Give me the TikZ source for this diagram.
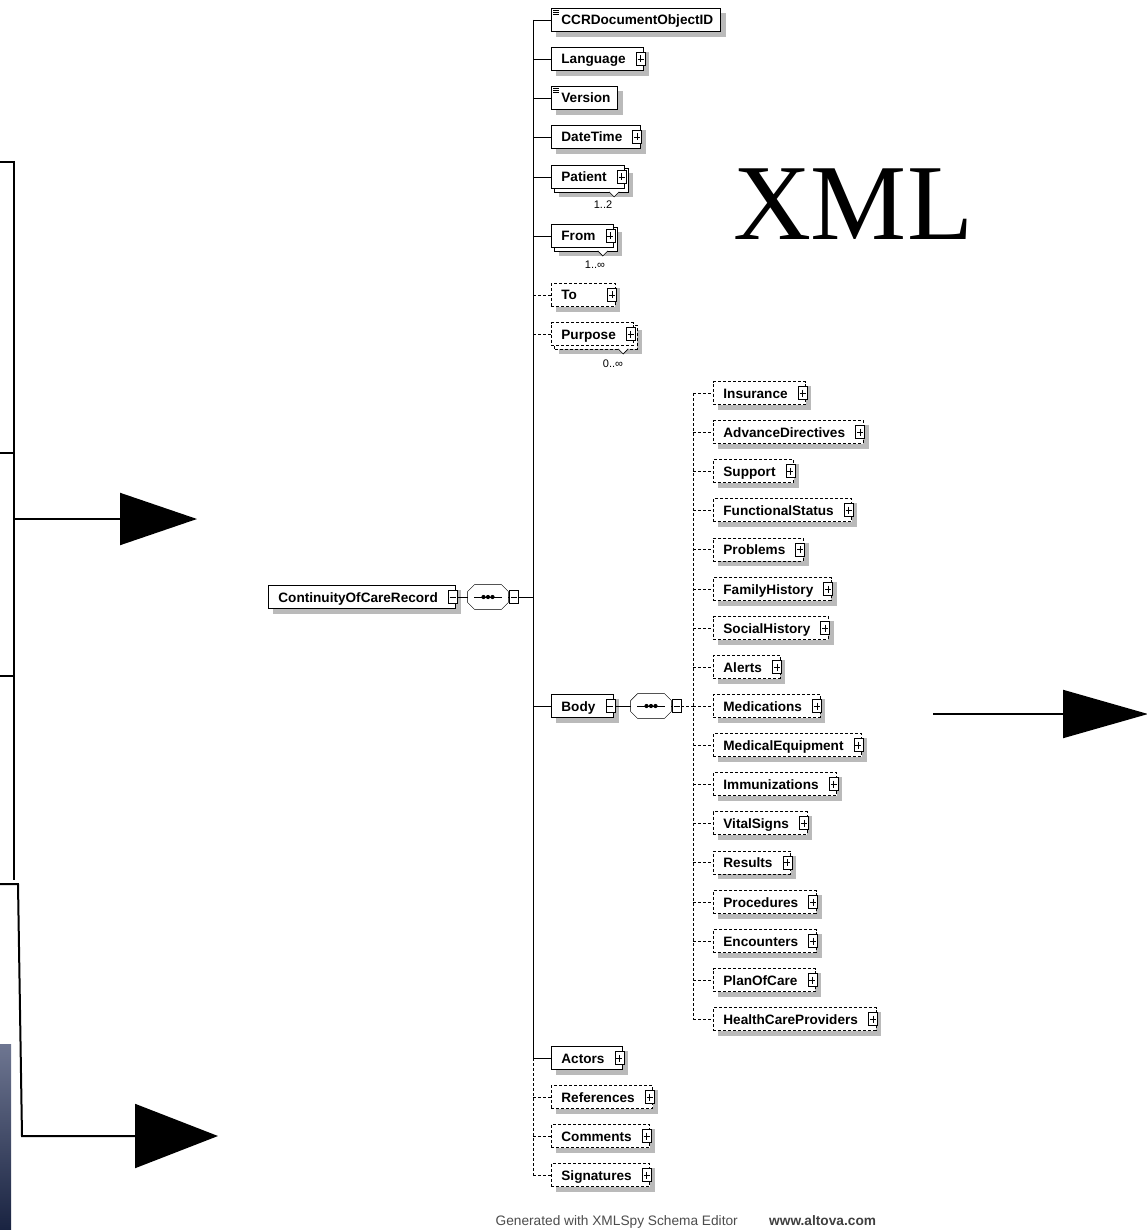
\documentclass[tikz,border=0pt]{standalone}
\usepackage{fontspec}
\setmainfont{Liberation Serif}
\newfontfamily\xsdfont{Liberation Sans}
\usetikzlibrary{arrows.meta}
\pgfdeclarelayer{shadowlayer}
\pgfsetlayers{shadowlayer,main}

\begin{document}
\begin{tikzpicture}[x=1pt, y=-1pt, line width=0.8pt,
	xsd/.style = {draw, fill=white, font={\xsdfont\bfseries\fontsize{13.6pt}{15pt}\selectfont}, minimum height=23pt, text height=10pt, text depth=0pt, inner xsep=0pt, inner ysep=0pt, anchor=west, execute at begin node=\hspace*{10pt}},
	elem/.style = {xsd, execute at end node=\hspace*{18pt}},
	leaf/.style = {xsd, execute at end node=\hspace*{7pt}},
	opt/.style = {dash pattern=on 3pt off 2pt},
	seqbox/.style = {minimum width=40pt, minimum height=24pt, inner sep=0pt},
	shadowfill/.style = {fill=black!27},
	iconbox/.style = {draw, fill=white, solid, line width=0.6pt},
	mult/.style = {font={\xsdfont\fontsize{11pt}{12pt}\selectfont}, inner sep=0pt},
	bigline/.style = {line width=2pt},
]
	\useasboundingbox (0,0) rectangle (1147,1230);

	% left side
	\draw[bigline] (0,162) -- (14,162);
	\draw[bigline] (0,453) -- (14,453);
	\draw[bigline] (0,676) -- (14,676);
	\draw[bigline] (14,161) -- (14,880);
	\coordinate (midtap) at (14,519);
	\coordinate (midtip) at (197,519);
	\draw[bigline, -{Triangle[length=77pt,width=52pt]}] (midtap) -- (midtip);
	\coordinate (lowtap) at (0,884);
	\coordinate (lowbend) at (18,884);
	\coordinate (lowfoot) at (22,1136);
	\coordinate (lowtip) at (218,1136);
	\draw[bigline, -{Triangle[length=83pt,width=64pt]}] (lowtap) -- (lowbend) -- (lowfoot) -- (lowtip);
	\shade[top color={rgb,255:red,110;green,118;blue,145}, bottom color={rgb,255:red,25;green,35;blue,65}] (0,1044) rectangle (11,1230);

	% right side
	\coordinate (rightstart) at (933,714);
	\coordinate (righttip) at (1148,714);
	\draw[bigline, -{Triangle[length=85pt,width=48pt]}] (rightstart) -- (righttip);
	\node[anchor=base, inner sep=0pt, font=\fontsize{108pt}{110pt}\selectfont] (xmltitle) at (853,240) {XML};

	% root
	\node[elem] (ccr) at (268,597) {ContinuityOfCareRecord};
	\node[seqbox] (ccrseq) at (488,597) {};
	\coordinate (mainbus) at (533,597);

	% children of the record
	\node[leaf] (ccrid) at (551,20) {CCRDocumentObjectID};
	\node[elem] (lang) at (551,59) {Language};
	\node[leaf] (version) at (551,98) {Version};
	\node[elem] (datetime) at (551,137) {DateTime};
	\node[elem] (patient) at (551,177) {Patient};
	\node[elem] (from) at (551,236) {From};
	\node[elem, opt] (to) at (551,295) {To\hspace*{20pt}};
	\node[elem, opt] (purpose) at (551,334) {Purpose};
	\node[elem] (body) at (551,706) {Body};
	\node[elem] (actors) at (551,1058) {Actors};
	\node[elem, opt] (refs) at (551,1097) {References};
	\node[elem, opt] (comments) at (551,1136) {Comments};
	\node[elem, opt] (sigs) at (551,1175) {Signatures};

	\node[mult] (patientocc) at (603,205) {1..2};
	\node[mult] (fromocc) at (595,265) {1..∞};
	\node[mult] (purposeocc) at (613,364) {0..∞};

	% children of the body
	\node[seqbox] (bodyseq) at (651,706) {};
	\coordinate (bodybus) at (693,706);
	\node[elem, opt] (insurance) at (713,393) {Insurance};
	\node[elem, opt] (advdir) at (713,432) {AdvanceDirectives};
	\node[elem, opt] (support) at (713,471) {Support};
	\node[elem, opt] (funcstatus) at (713,510) {FunctionalStatus};
	\node[elem, opt] (problems) at (713,549.5) {Problems};
	\node[elem, opt] (familyhist) at (713,589) {FamilyHistory};
	\node[elem, opt] (socialhist) at (713,628) {SocialHistory};
	\node[elem, opt] (alerts) at (713,667) {Alerts};
	\node[elem, opt] (meds) at (713,706) {Medications};
	\node[elem, opt] (medequip) at (713,745) {MedicalEquipment};
	\node[elem, opt] (immun) at (713,784) {Immunizations};
	\node[elem, opt] (vitals) at (713,823) {VitalSigns};
	\node[elem, opt] (results) at (713,862.5) {Results};
	\node[elem, opt] (procs) at (713,902) {Procedures};
	\node[elem, opt] (encounters) at (713,941) {Encounters};
	\node[elem, opt] (plancare) at (713,980) {PlanOfCare};
	\node[elem, opt] (hcp) at (713,1019) {HealthCareProviders};

	% shadows and stacked copies
	\begin{pgfonlayer}{shadowlayer}
		\foreach \n in {ccr,ccrid,lang,version,datetime,to,body,actors,refs,comments,sigs,insurance,advdir,support,funcstatus,problems,familyhist,socialhist,alerts,meds,medequip,immun,vitals,results,procs,encounters,plancare,hcp}
			\fill[shadowfill] ([shift={(5pt,-5pt)}]\n.south west) rectangle ([shift={(5pt,-5pt)}]\n.north east);
		\foreach \n in {patient,from,purpose}
			\fill[shadowfill] ([shift={(8pt,-8pt)}]\n.south west) rectangle ([shift={(8pt,-8pt)}]\n.north east);
		\foreach \n in {patient,from}
			\draw[fill=white] ([shift={(3pt,-3pt)}]\n.south west) rectangle ([shift={(3pt,-3pt)}]\n.north east);
		\draw[fill=white, opt] ([shift={(3pt,-3pt)}]purpose.south west) rectangle ([shift={(3pt,-3pt)}]purpose.north east);
		\foreach \n in {ccrseq,bodyseq}
			\fill[shadowfill, shift={(5,5)}] ([xshift=7pt]\n.north west) -- ([xshift=-7pt]\n.north east) -- ([yshift=-7pt]\n.north east)
				-- ([yshift=7pt]\n.south east) -- ([xshift=-7pt]\n.south east) -- ([xshift=7pt]\n.south west)
				-- ([yshift=7pt]\n.south west) -- ([yshift=-7pt]\n.north west) -- cycle;
	\end{pgfonlayer}

	% sequence compositors
	\foreach \n in {ccrseq,bodyseq}{
		\draw[fill=white] ([xshift=7pt]\n.north west) -- ([xshift=-7pt]\n.north east) -- ([yshift=-7pt]\n.north east)
			-- ([yshift=7pt]\n.south east) -- ([xshift=-7pt]\n.south east) -- ([xshift=7pt]\n.south west)
			-- ([yshift=7pt]\n.south west) -- ([yshift=-7pt]\n.north west) -- cycle;
		\draw ([xshift=-14pt]\n.center) -- ([xshift=14pt]\n.center);
		\fill (\n.center) circle (2.1) ++(-4.5,0) circle (2.1) ++(9,0) circle (2.1);
	}

	% connectors
	\draw (ccr.east) -- (ccrseq.west);
	\draw (ccrseq.east) -- (mainbus);
	\draw (mainbus |- ccrid.west) -- (mainbus |- actors.west);
	\draw[opt] (mainbus |- actors.west) -- (mainbus |- sigs.west);
	\foreach \n in {ccrid,lang,version,datetime,patient,from,body,actors}
		\draw (mainbus |- \n.west) -- (\n.west);
	\foreach \n in {to,purpose,refs,comments,sigs}
		\draw[opt] (mainbus |- \n.west) -- (\n.west);
	\draw (body.east) -- (bodyseq.west);
	\draw[opt] (bodyseq.east) -- (bodybus);
	\draw[opt] (bodybus |- insurance.west) -- (bodybus |- hcp.west);
	\foreach \n in {insurance,advdir,support,funcstatus,problems,familyhist,socialhist,alerts,meds,medequip,immun,vitals,results,procs,encounters,plancare,hcp}
		\draw[opt] (bodybus |- \n.west) -- (\n.west);

	% notches under repeated elements
	\foreach \n in {patient,from,purpose}
		\draw[fill=white, line width=0.6pt] ([xshift=-16pt]\n.south east) ++(0,3) -- ++(5,5) -- ++(5,-5);

	% simple type marks
	\foreach \n in {ccrid,version}
		\draw[line width=0.6pt] (\n.north west) ++(2,2) -- ++(6,0) ++(-6,2) -- ++(6,0) ++(-6,2) -- ++(6,0);

	% expand icons
	\foreach \n in {lang,datetime,patient,from,to,purpose,actors,refs,comments,sigs,insurance,advdir,support,funcstatus,problems,familyhist,socialhist,alerts,meds,medequip,immun,vitals,results,procs,encounters,plancare,hcp}{
		\draw[iconbox] ([xshift=-8pt,yshift=6.5pt]\n.east) rectangle ([xshift=1pt,yshift=-6.5pt]\n.east);
		\draw[line width=0.6pt] ([xshift=-6.5pt]\n.east) -- ([xshift=-0.5pt]\n.east)
			([xshift=-3.5pt,yshift=3.5pt]\n.east) -- ([xshift=-3.5pt,yshift=-3.5pt]\n.east);
	}
	% collapse icons
	\foreach \n in {ccr,body}{
		\draw[iconbox] ([xshift=-8pt,yshift=6.5pt]\n.east) rectangle ([xshift=1pt,yshift=-6.5pt]\n.east);
		\draw[line width=0.6pt] ([xshift=-6.5pt]\n.east) -- ([xshift=-0.5pt]\n.east);
	}
	\foreach \n in {ccrseq,bodyseq}{
		\draw[iconbox] ([xshift=1pt,yshift=6.5pt]\n.east) rectangle ([xshift=10pt,yshift=-6.5pt]\n.east);
		\draw[line width=0.6pt] ([xshift=2.5pt]\n.east) -- ([xshift=8.5pt]\n.east);
	}

	% footer
	\node[anchor=base east, inner sep=0pt, text=black!70, font={\xsdfont\fontsize{13.7pt}{16pt}\selectfont}] (gentext) at (738,1225) {Generated with XMLSpy Schema Editor};
	\node[anchor=base west, inner sep=0pt, text=black!75, font={\xsdfont\bfseries\fontsize{13.7pt}{16pt}\selectfont}] (altova) at (769,1225) {www.altova.com};
\end{tikzpicture}
\end{document}
